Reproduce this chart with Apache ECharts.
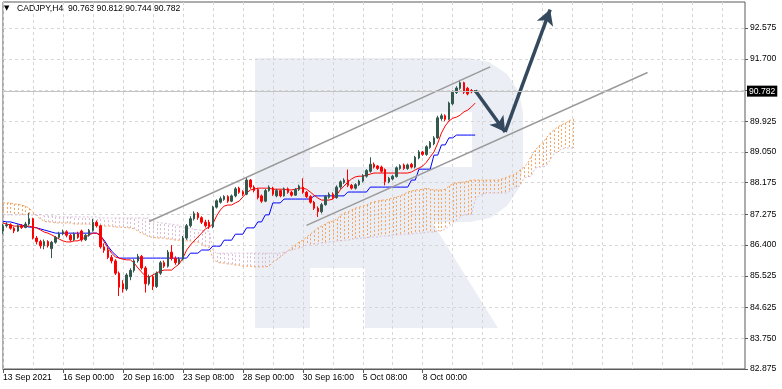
<!DOCTYPE html>
<html><head><meta charset="utf-8">
<script src="https://cdn.jsdelivr.net/npm/echarts@6/dist/echarts.min.js"></script>
<style>html,body{margin:0;padding:0;background:#fff}#c{width:782px;height:389px}</style>
</head><body><div id="c"></div>
<script>
const titleText = 'CADJPY,H4  90.763 90.812 90.744 90.782';
const lastPrice = 90.782;
const xTickLabels = ['13 Sep 2021','16 Sep 00:00','20 Sep 16:00','23 Sep 08:00','28 Sep 00:00','30 Sep 16:00','5 Oct 08:00','8 Oct 00:00'];
const yTickValues = [82.875, 83.750, 84.625, 85.525, 86.400, 87.275, 88.175, 89.050, 89.925, 90.800, 91.700, 92.575];
const yLabelValues = [82.875, 83.750, 84.625, 85.525, 86.400, 87.275, 88.175, 89.050, 89.925, 91.700, 92.575];

const candleOpen = [
86.80,86.95,86.98,86.88,86.80,86.95,86.90,87.00,87.15,86.60,
86.50,86.38,86.50,86.30,86.48,86.62,86.72,86.78,86.68,86.55,
86.72,86.80,86.55,86.68,86.82,87.05,86.95,86.35,86.25,86.05,
85.95,85.60,85.30,85.15,85.50,85.68,85.95,86.08,85.75,85.30,
85.50,85.22,85.60,85.90,85.80,86.20,86.02,85.90,86.00,86.60,
86.95,87.15,87.30,87.18,87.05,87.05,86.92,87.48,87.62,87.70,
87.78,87.65,87.80,88.02,87.92,87.85,88.25,88.05,87.98,87.80,
87.65,87.95,88.02,87.80,87.95,87.80,88.00,87.90,87.82,87.98,
88.05,87.90,87.78,87.62,87.45,87.35,87.55,87.76,87.85,87.75,
88.05,88.18,88.25,88.10,88.02,88.12,88.22,88.36,88.50,88.70,
88.65,88.62,88.55,88.20,88.28,88.35,88.58,88.68,88.58,88.70,
88.62,88.88,89.05,88.98,89.18,89.28,89.45,90.00,90.08,89.98,
90.42,90.74,90.86,91.02,90.86,90.80,90.763];
const candleClose = [
86.95,86.98,86.88,86.80,86.95,86.90,87.00,87.15,86.60,86.50,
86.38,86.50,86.38,86.48,86.62,86.72,86.78,86.68,86.55,86.72,
86.62,86.55,86.68,86.82,87.05,86.95,86.35,86.25,86.05,85.95,
85.60,85.20,85.15,85.55,85.68,85.95,86.08,85.75,85.30,85.50,
85.22,85.60,85.90,85.80,86.20,86.02,85.90,86.00,86.60,86.95,
87.15,87.30,87.18,87.05,86.95,86.92,87.48,87.66,87.72,87.78,
87.65,87.80,88.00,87.90,87.85,88.25,88.05,87.95,87.75,87.65,
87.95,88.05,87.85,87.95,87.80,88.00,87.90,87.82,87.98,88.08,
87.90,87.78,87.62,87.45,87.35,87.55,87.78,87.85,87.75,88.05,
88.20,88.25,88.10,88.02,88.12,88.22,88.38,88.52,88.70,88.62,
88.58,88.50,88.20,88.30,88.36,88.60,88.66,88.58,88.68,88.62,
88.90,89.05,88.98,89.20,89.32,89.45,90.02,90.08,89.98,90.44,
90.75,90.87,91.02,90.75,90.70,90.763,90.782];
const candleLow = [
86.72,86.90,86.84,86.74,86.78,86.86,86.88,86.96,86.56,86.42,
86.30,86.28,86.33,86.03,86.44,86.58,86.68,86.62,86.50,86.52,
86.58,86.50,86.52,86.64,86.78,86.90,86.30,86.18,86.00,85.88,
85.55,84.95,85.05,85.10,85.40,85.62,85.90,85.70,85.05,85.25,
85.12,85.18,85.55,85.75,85.76,85.96,85.84,85.85,85.96,86.55,
86.90,87.10,87.12,87.00,86.90,86.86,86.88,87.44,87.58,87.66,
87.60,87.62,87.76,87.86,87.80,87.82,88.00,87.90,87.70,87.60,
87.62,87.92,87.80,87.76,87.76,87.78,87.86,87.78,87.80,87.94,
87.86,87.74,87.58,87.40,87.20,87.30,87.52,87.72,87.70,87.72,
88.00,88.14,88.05,87.98,87.98,88.08,88.18,88.32,88.46,88.58,
88.54,88.46,88.10,88.16,88.24,88.32,88.54,88.54,88.54,88.58,
88.58,88.84,88.94,88.94,89.14,89.24,89.42,89.94,89.92,89.95,
90.38,90.70,90.82,90.70,90.66,90.72,90.744];
const candleHigh = [
87.00,87.05,87.02,86.92,86.99,87.00,87.06,87.32,87.18,86.66,
86.55,86.56,86.54,86.52,86.66,86.78,86.84,86.82,86.72,86.76,
86.78,86.84,86.72,86.86,87.15,87.10,86.98,86.45,86.32,86.12,
86.00,85.65,85.40,85.60,85.74,86.00,86.15,86.12,85.80,85.56,
85.55,85.65,85.95,85.96,86.26,86.40,86.08,86.06,86.66,87.00,
87.22,87.36,87.34,87.22,87.12,87.12,87.52,87.70,87.78,87.82,
87.82,87.84,88.05,88.06,87.96,88.32,88.28,88.10,88.02,87.84,
88.00,88.10,88.06,88.00,87.98,88.04,88.04,87.94,88.02,88.12,
88.30,87.94,87.82,87.66,87.50,87.60,87.82,87.90,87.90,88.10,
88.24,88.30,88.55,88.14,88.16,88.26,88.42,88.56,88.90,88.75,
88.68,88.66,88.58,88.34,88.40,88.64,88.70,88.72,88.72,88.74,
88.94,89.10,89.08,89.24,89.36,89.50,90.08,90.14,90.12,90.48,
90.80,90.92,91.10,91.05,90.90,90.84,90.812];

const tenkan = [
87.03,87.00,86.97,86.94,86.94,86.94,86.94,86.94,86.91,86.89,
86.83,86.77,86.74,86.69,86.63,86.57,86.52,86.49,86.49,86.52,
86.52,86.57,86.63,86.69,86.74,86.74,86.69,86.49,86.32,86.17,
86.06,86.03,86.00,85.98,85.98,85.89,85.75,85.63,85.52,85.49,
85.55,85.61,85.66,85.69,85.69,85.69,85.78,85.86,86.03,86.26,
86.40,86.52,86.63,86.74,86.86,86.91,87.00,87.23,87.40,87.51,
87.54,87.54,87.60,87.65,87.77,87.88,87.97,87.99,88.02,88.02,
88.02,88.02,87.99,87.99,87.99,87.99,87.97,87.97,87.99,88.02,
88.02,87.99,87.91,87.82,87.74,87.68,87.68,87.68,87.71,87.82,
87.97,88.08,88.19,88.28,88.34,88.36,88.36,88.39,88.42,88.45,
88.45,88.45,88.45,88.45,88.45,88.45,88.45,88.45,88.45,88.48,
88.54,88.59,88.65,88.76,88.91,89.05,89.30,89.59,89.79,89.93,
90.01,90.04,90.10,90.19,90.24,90.33,90.44];
const kijun = [
87.08,87.06,87.06,87.03,87.00,86.97,86.94,86.91,86.91,86.89,
86.86,86.83,86.80,86.77,86.74,86.74,86.74,86.74,86.74,86.74,
86.74,86.74,86.74,86.74,86.74,86.74,86.66,86.54,86.37,86.23,
86.12,86.03,86.03,86.03,86.03,86.03,86.03,86.03,86.03,86.03,
86.03,86.03,86.03,86.03,86.03,86.03,86.03,86.03,86.03,86.03,
86.17,86.17,86.17,86.26,86.26,86.26,86.37,86.37,86.37,86.54,
86.54,86.54,86.71,86.71,86.71,86.89,86.89,86.89,87.06,87.06,
87.26,87.26,87.60,87.60,87.60,87.71,87.71,87.71,87.71,87.71,
87.71,87.71,87.71,87.80,87.80,87.80,87.80,87.80,87.80,87.80,
87.80,87.80,87.91,87.91,87.91,87.91,87.91,87.91,88.05,88.05,
88.05,88.05,88.05,88.05,88.05,88.05,88.05,88.05,88.05,88.25,
88.25,88.56,88.56,88.56,88.56,88.96,88.96,89.25,89.25,89.45,
89.45,89.53,89.53,89.53,89.53,89.53,89.53];
const spanA = [
87.60,87.60,87.60,87.57,87.57,87.54,87.51,87.45,87.34,87.23,
87.14,87.08,87.06,87.06,87.03,87.03,87.03,87.03,87.03,87.00,
87.00,87.00,87.00,87.00,86.97,86.97,86.97,86.94,86.94,86.94,
86.91,86.91,86.91,86.89,86.89,86.86,86.80,86.74,86.69,86.63,
86.63,86.60,86.60,86.60,86.57,86.57,86.54,86.54,86.54,86.52,
86.52,86.49,86.49,86.43,86.37,86.34,86.03,85.92,85.89,85.89,
85.86,85.86,85.83,85.83,85.80,85.80,85.80,85.78,85.78,85.78,
85.78,85.80,85.92,85.98,86.06,86.15,86.23,86.32,86.40,86.49,
86.54,86.63,86.71,86.80,86.89,86.94,87.00,87.06,87.08,87.14,
87.23,87.31,87.34,87.40,87.45,87.48,87.51,87.54,87.60,87.63,
87.65,87.68,87.68,87.71,87.74,87.77,87.80,87.85,87.91,87.94,
87.97,87.97,87.99,88.02,87.99,87.97,87.97,87.97,87.99,88.08,
88.14,88.17,88.19,88.19,88.22,88.25,88.25,88.25,88.25,88.25,
88.25,88.25,88.25,88.28,88.31,88.36,88.39,88.45,88.54,88.62,
88.73,88.93,89.10,89.22,89.30,89.45,89.59,89.67,89.76,89.82,
89.87,89.93,89.99];
const spanB = [
87.26,87.26,87.26,87.26,87.26,87.26,87.26,87.26,87.26,87.26,
87.26,87.23,87.23,87.23,87.23,87.20,87.20,87.20,87.20,87.20,
87.20,87.20,87.20,87.20,87.20,87.20,87.17,87.17,87.17,87.17,
87.17,87.17,87.17,87.17,87.17,87.17,87.17,87.17,87.17,87.17,
87.06,87.06,87.03,87.03,87.00,87.00,86.97,86.97,86.89,86.89,
86.86,86.86,86.83,86.83,86.80,86.80,86.26,86.17,86.17,86.17,
86.17,86.17,86.17,86.17,86.17,86.17,86.17,86.17,86.17,86.17,
86.17,86.17,86.17,86.17,86.17,86.20,86.23,86.26,86.29,86.32,
86.34,86.40,86.40,86.43,86.43,86.46,86.46,86.49,86.49,86.52,
86.52,86.54,86.54,86.57,86.57,86.60,86.60,86.60,86.63,86.63,
86.63,86.66,86.66,86.66,86.69,86.69,86.69,86.71,86.71,86.71,
86.74,86.74,86.74,86.77,86.77,86.77,86.80,86.80,86.86,86.94,
87.03,87.11,87.20,87.26,87.26,87.28,87.68,87.80,87.85,87.88,
87.88,87.88,87.88,87.88,87.88,87.91,88.05,88.05,88.08,88.31,
88.34,88.36,88.59,88.62,88.62,88.65,88.82,88.99,89.05,89.13,
89.16,89.16,89.16];

const channelUpper = [[39, 87.07], [130, 91.47]];
const channelLower = [[81, 86.96], [172, 91.31]];
const arrowDown = [[126, 90.80], [134, 89.62]];
const arrowUp = [[134, 89.62], [146, 93.10]];
const SLOTS = 199;

const FONT = 'Liberation Sans';
const FS = 8.6;
const cats = Array.from({length: SLOTS}, (_, i) => String(i));
const candleData = candleOpen.map((o, i) => [o, candleClose[i], candleLow[i], candleHigh[i]]);
const cloudData = spanA.map((a, j) => [j, a, spanB[j]]);
const isLabel = i => i % 16 === 0 && i / 16 < xTickLabels.length;

const chart = echarts.init(document.getElementById('c'));
chart.setOption({
  animation: false,
  backgroundColor: '#ffffff',
  graphic: [
    {type: 'polygon', z: -10, silent: true,
     shape: {points: [[255,58],[468,58],[489,62],[507,74],[519,92],[523,113],[523,168],[519,188],[507,206],[490,218],[470,222],[432,222],[498,328],[365,328],[365,268],[310,268],[310,328],[255,328]]},
     style: {fill: '#ebeff5'}},
    {type: 'rect', z: -9, silent: true, shape: {x: 310, y: 112, width: 162, height: 55}, style: {fill: '#ffffff'}},
    {type: 'text', left: 4, top: 5, silent: true, style: {text: '▼', font: '7px "DejaVu Sans"', fill: '#000'}},
    {type: 'text', left: 17, top: 4, silent: true, style: {text: titleText, font: FS + 'px "' + FONT + '"', fill: '#000'}}
  ],
  grid: {left: 2, right: 37, top: 2, bottom: 20, show: true, borderColor: '#5a5a5a', borderWidth: 1, backgroundColor: 'transparent'},
  xAxis: {
    type: 'category', data: cats, boundaryGap: false,
    axisLine: {show: true, lineStyle: {color: '#5a5a5a'}},
    axisTick: {show: true, interval: i => isLabel(i), length: 4, lineStyle: {color: '#5a5a5a'}},
    axisLabel: {interval: i => isLabel(i), formatter: v => xTickLabels[Number(v) / 16] || '',
      align: 'left', margin: 4, fontSize: FS, fontFamily: FONT, color: '#000'},
    splitLine: {show: true, interval: i => i % 8 === 0, lineStyle: {color: '#d6d6d6', type: [3, 3]}}
  },
  yAxis: {
    type: 'value', position: 'right', min: 82.875, max: 93.316, scale: true,
    axisLine: {show: false},
    axisTick: {show: true, length: 3, customValues: yTickValues, lineStyle: {color: '#5a5a5a'}},
    axisLabel: {customValues: yLabelValues, formatter: v => Number(v).toFixed(3), margin: 5,
      fontSize: FS, fontFamily: FONT, color: '#000'},
    splitLine: {show: true, lineStyle: {color: '#d6d6d6', type: [3, 3]}}
  },
  series: [
    {type: 'custom', data: cloudData, z: 1, silent: true, clip: true,
     encode: {x: 0, y: [1, 2]},
     renderItem: (params, api) => {
       const j = api.value(0), a = api.value(1), b = api.value(2);
       const p1 = api.coord([j, a]), p2 = api.coord([j, b]);
       const x = Math.round(p1[0]) + 0.5;
       return {type: 'line', shape: {x1: x, y1: p1[1], x2: x, y2: p2[1]},
         style: {stroke: a >= b ? '#f4a460' : '#d8bfd8', lineWidth: 1, lineDash: [2, 2]}};
     }},
    {type: 'line', data: spanA, z: 1, symbol: 'none', silent: true,
     lineStyle: {color: '#f4a460', width: 1, type: [2, 2]}},
    {type: 'line', data: spanB, z: 1, symbol: 'none', silent: true,
     lineStyle: {color: '#d8bfd8', width: 1, type: [2, 2]}},
    {type: 'line', data: kijun, z: 3, symbol: 'none', silent: true,
     lineStyle: {color: '#0000ff', width: 1},
     markLine: {silent: true, symbol: ['none', 'arrow'], symbolSize: [13, 15], label: {show: false},
       lineStyle: {color: '#34495e', width: 3.5, type: 'solid'},
       data: [[{coord: arrowDown[0]}, {coord: arrowDown[1]}], [{coord: arrowUp[0]}, {coord: arrowUp[1]}]]}},
    {type: 'line', data: tenkan, z: 3, symbol: 'none', silent: true,
     lineStyle: {color: '#ff0000', width: 1},
     markLine: {silent: true, symbol: ['none', 'none'], label: {show: false},
       lineStyle: {color: '#9a9a9a', width: 1.5, type: 'solid'},
       data: [[{coord: channelUpper[0]}, {coord: channelUpper[1]}], [{coord: channelLower[0]}, {coord: channelLower[1]}]]}},
    {type: 'candlestick', data: candleData, z: 4, barWidth: 2, silent: true,
     itemStyle: {color: '#32594c', color0: '#ff0000', borderColor: '#32594c', borderColor0: '#ff0000', borderWidth: 1},
     markLine: {silent: true, symbol: ['none', 'none'],
       lineStyle: {color: '#c4c4c4', width: 1, type: 'solid'},
       label: {show: true, position: 'end', formatter: lastPrice.toFixed(3), color: '#fff', backgroundColor: '#000',
         padding: [1, 2, 1, 2], fontSize: FS, fontFamily: FONT, distance: 2},
       data: [{yAxis: lastPrice}]}}
  ]
});
</script>
</body></html>
